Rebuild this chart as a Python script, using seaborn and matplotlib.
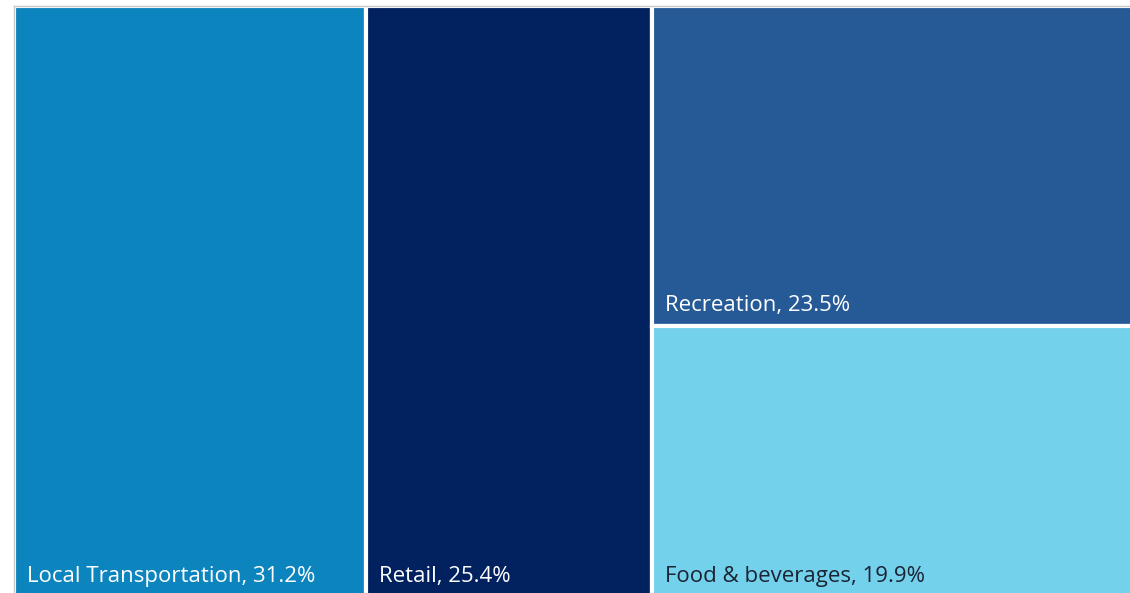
import seaborn as sns
import matplotlib.pyplot as plt
from matplotlib.patches import Rectangle

categories = ["Local Transportation", "Retail", "Recreation", "Food & beverages"]
shares = [31.2, 25.4, 23.5, 19.9]
colors = ["#0C84BE", "#01215F", "#255A97", "#74D1EC"]
text_colors = ["white", "white", "white", "#1B2433"]

sns.set_theme(style="white")
plt.rcParams["font.family"] = ["Open Sans", "DejaVu Sans"]

fig = plt.figure(figsize=(11.3, 5.93), dpi=100)
# treemap runs past the right and bottom edges of the picture
ax = fig.add_axes([14 / 1130, -4 / 593, 1127 / 1130, 1 - 2 / 593])
total = sum(shares)

# first two as full-height columns, last two stacked in the remaining column
rects = []
x = 0
for s in shares[:2]:
    w = s / total * 100
    rects.append((x, 0, w, 100))
    x += w
rest = sum(shares[2:])
w = 100 - x
y = 100
for s in shares[2:]:
    h = s / rest * 100
    y -= h
    rects.append((x, y, w, h))

for (rx, ry, rw, rh), name, s, c, tc in zip(rects, categories, shares, colors, text_colors):
    ax.add_patch(Rectangle((rx, ry), rw, rh, facecolor=c, edgecolor="white", linewidth=3))
    ax.annotate(f"{name}, {s}%", (rx, ry), xytext=(9.5, 7), textcoords="offset points",
                color=tc, fontsize=16, ha="left", va="bottom")

ax.set_xlim(0, 100)
ax.set_ylim(0, 100)
ax.set_xticks([])
ax.set_yticks([])
for side in ["right", "bottom"]:
    ax.spines[side].set_visible(False)
for side in ["left", "top"]:
    ax.spines[side].set_color("#C8C8C8")
    ax.spines[side].set_linewidth(1)
    ax.spines[side].set_zorder(3)

fig.savefig("out.png", dpi=100)
